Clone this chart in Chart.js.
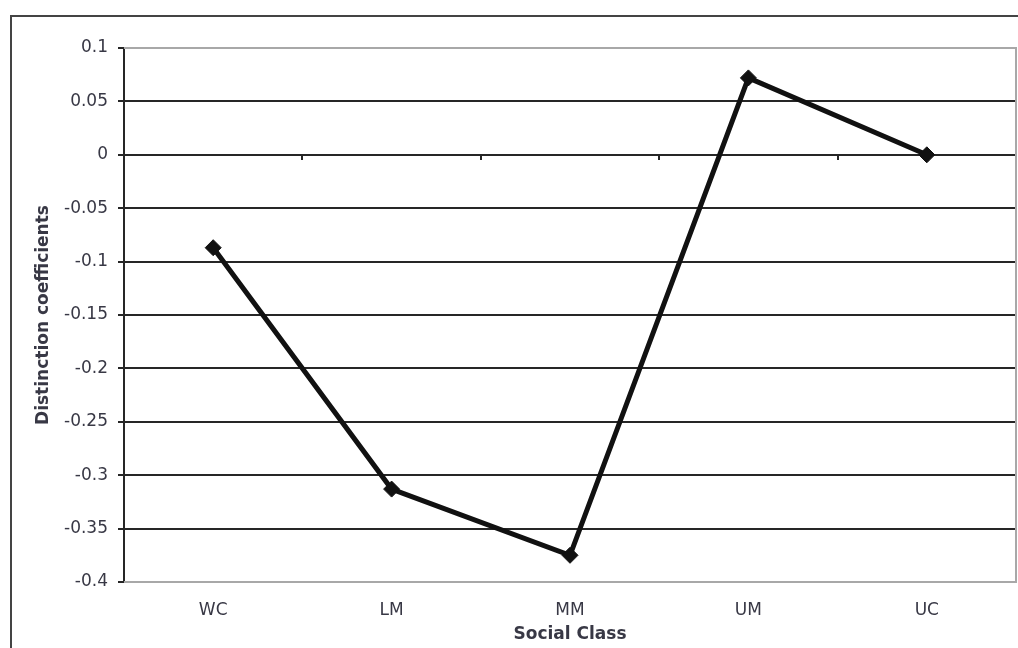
<!DOCTYPE html>
<html>
<head>
<meta charset="utf-8">
<script src="https://cdn.jsdelivr.net/npm/chart.js@4/dist/chart.umd.min.js"></script>
<style>
  html, body { margin: 0; padding: 0; background: #fff; overflow: hidden; }
  #frame { position: absolute; left: 10px; top: 15px; width: 2000px; height: 2000px;
           border: 2px solid #444; box-sizing: border-box; }
  #wrap { position: absolute; left: 0; top: 0; width: 1025px; height: 648px; }
</style>
</head>
<body>
<div id="frame"></div>
<div id="wrap"><canvas id="c"></canvas></div>
<script>
// Social class categories and their distinction coefficients
const classes = ['WC', 'LM', 'MM', 'UM', 'UC'];
const coefficients = [-0.087, -0.313, -0.375, 0.072, 0.0];
const yMin = -0.4;
const yMax = 0.1;
const yStep = 0.05;

const textColor = '#383845';
const gridDark = '#262626';
const edgeGray = '#a8a8a8';

// Grey frame around the plotting area (top, right, bottom)
const plotFrame = {
  id: 'plotFrame',
  beforeDatasetsDraw(chart) {
    const { ctx, chartArea: a } = chart;
    ctx.save();
    ctx.strokeStyle = edgeGray;
    ctx.lineWidth = 2;
    ctx.beginPath();
    ctx.moveTo(a.left, a.top);
    ctx.lineTo(a.right, a.top);
    ctx.lineTo(a.right, a.bottom);
    ctx.lineTo(a.left, a.bottom);
    ctx.stroke();
    ctx.restore();
  }
};

new Chart(document.getElementById('c'), {
  type: 'line',
  data: {
    labels: classes,
    datasets: [{
      data: coefficients,
      borderColor: '#111',
      backgroundColor: '#111',
      borderWidth: 5,
      pointStyle: 'rectRot',
      pointRadius: 8,
      pointBorderWidth: 1,
      pointBackgroundColor: '#111',
      pointBorderColor: '#111',
      tension: 0,
      fill: false
    }]
  },
  options: {
    responsive: true,
    maintainAspectRatio: false,
    animation: false,
    layout: { padding: { left: 29, top: 48, right: 0, bottom: 0 } },
    plugins: { legend: { display: false }, tooltip: { enabled: false } },
    scales: {
      x: {
        type: 'category',
        position: 'bottom',
        offset: true,
        grid: { display: false, drawTicks: false },
        border: { display: false },
        ticks: { color: textColor, font: { family: 'DejaVu Sans', size: 17 }, padding: 18, maxRotation: 0 },
        title: {
          display: true, text: 'Social Class', color: textColor,
          font: { family: 'DejaVu Sans', size: 17, weight: 'bold' },
          padding: { top: 0, bottom: 3 }
        },
        afterFit(scale) { scale.height = 66; }
      },
      xZero: {
        type: 'category',
        position: { y: 0 },
        offset: true,
        grid: { offset: true, drawOnChartArea: false, drawTicks: true, tickLength: 5, color: gridDark, lineWidth: 2 },
        border: { display: false },
        ticks: { display: false }
      },
      y: {
        min: yMin,
        max: yMax,
        ticks: {
          stepSize: yStep,
          color: textColor,
          font: { family: 'DejaVu Sans', size: 17 },
          padding: 10,
          callback: (v) => String(Number(v.toFixed(2)))
        },
        grid: {
          color: (ctx) => {
            const v = Number(ctx.tick.value.toFixed(2));
            return (v === yMax || v === yMin) ? edgeGray : gridDark;
          },
          tickColor: gridDark,
          lineWidth: 2,
          tickLength: 6
        },
        border: { display: true, color: gridDark, width: 2 },
        title: {
          display: true, text: 'Distinction coefficients', color: textColor,
          font: { family: 'DejaVu Sans', size: 17, weight: 'bold' },
          padding: { top: 4, bottom: 4 }
        },
        afterFit(scale) { scale.width = 95; }
      }
    }
  },
  plugins: [plotFrame]
});
</script>
</body>
</html>
